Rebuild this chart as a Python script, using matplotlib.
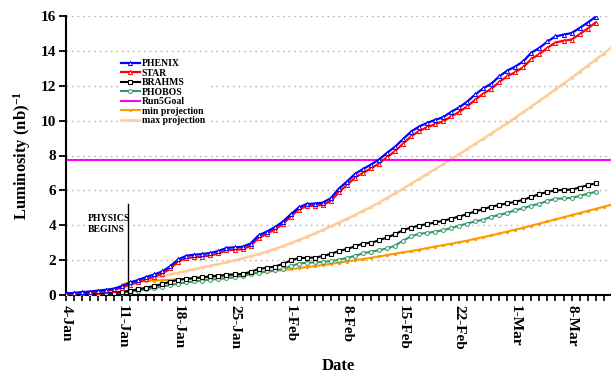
import numpy as np
import matplotlib
matplotlib.use("Agg")
import matplotlib.pyplot as plt
import matplotlib.dates as mdates
from matplotlib.ticker import FuncFormatter

plt.rcParams['font.family'] = ['Liberation Serif', 'DejaVu Serif']
plt.rcParams['font.weight'] = 'bold'
plt.rcParams['mathtext.fontset'] = 'custom'
plt.rcParams['mathtext.rm'] = 'Liberation Serif:bold'
plt.rcParams['mathtext.bf'] = 'Liberation Serif:bold'
plt.rcParams['mathtext.default'] = 'bf'

start_date = np.datetime64('2005-01-04')
physics_begins = np.datetime64('2005-01-11T18:00')
proj_start = np.datetime64('2005-01-11')
x_end = np.datetime64('2005-03-12T22:00')
run5_goal = 7.75

phenix = [0.08, 0.12, 0.17, 0.20, 0.25, 0.30, 0.37, 0.52, 0.72, 0.86, 1.03, 1.18, 1.35, 1.65, 2.05,
          2.25, 2.31, 2.35, 2.41, 2.52, 2.70, 2.73, 2.77, 2.95, 3.42, 3.63, 3.88, 4.20, 4.62, 5.02,
          5.22, 5.24, 5.30, 5.55, 6.10, 6.50, 6.94, 7.22, 7.48, 7.77, 8.15, 8.50, 8.94, 9.37, 9.66,
          9.87, 10.04, 10.20, 10.50, 10.76, 11.09, 11.50, 11.85, 12.12, 12.54, 12.87, 13.10, 13.41,
          13.90, 14.17, 14.54, 14.83, 14.93, 15.02, 15.31, 15.62, 15.95]
star = [0.06, 0.09, 0.13, 0.16, 0.20, 0.24, 0.30, 0.42, 0.60, 0.73, 0.90, 1.05, 1.22, 1.52, 1.92,
        2.12, 2.16, 2.20, 2.27, 2.38, 2.56, 2.59, 2.63, 2.82, 3.28, 3.50, 3.75, 4.06, 4.50, 4.90,
        5.10, 5.12, 5.17, 5.38, 5.90, 6.30, 6.73, 7.00, 7.26, 7.54, 7.90, 8.25, 8.68, 9.10, 9.40,
        9.62, 9.80, 9.96, 10.24, 10.50, 10.82, 11.20, 11.55, 11.82, 12.22, 12.55, 12.78, 13.07,
        13.54, 13.82, 14.18, 14.48, 14.58, 14.65, 14.95, 15.28, 15.62]
brahms = [0.03, 0.04, 0.05, 0.06, 0.08, 0.10, 0.13, 0.18, 0.25, 0.33, 0.42, 0.52, 0.63, 0.76, 0.88,
          0.92, 0.97, 1.02, 1.07, 1.11, 1.15, 1.19, 1.20, 1.33, 1.49, 1.56, 1.63, 1.78, 1.98, 2.12,
          2.13, 2.15, 2.23, 2.36, 2.52, 2.64, 2.79, 2.95, 2.99, 3.14, 3.30, 3.48, 3.72, 3.87, 3.98,
          4.07, 4.16, 4.25, 4.38, 4.50, 4.64, 4.80, 4.92, 5.07, 5.16, 5.26, 5.34, 5.46, 5.63, 5.79,
          5.91, 6.00, 6.02, 6.05, 6.16, 6.30, 6.40]
phobos = [0.03, 0.04, 0.05, 0.06, 0.07, 0.09, 0.11, 0.14, 0.19, 0.25, 0.32, 0.40, 0.48, 0.57, 0.65,
          0.72, 0.78, 0.83, 0.88, 0.92, 0.96, 1.02, 1.09, 1.20, 1.28, 1.36, 1.41, 1.49, 1.65, 1.80,
          1.85, 1.87, 1.90, 1.94, 2.02, 2.12, 2.24, 2.39, 2.48, 2.57, 2.67, 2.83, 3.12, 3.36, 3.51,
          3.56, 3.63, 3.72, 3.84, 3.97, 4.10, 4.22, 4.32, 4.49, 4.59, 4.72, 4.86, 4.98, 5.13, 5.23,
          5.40, 5.52, 5.54, 5.57, 5.68, 5.80, 5.92]
min_projection = [0.60, 0.72, 0.77, 0.80, 0.83, 0.85, 0.87, 0.90, 0.93, 0.96, 0.99, 1.02, 1.06, 1.10,
                  1.14, 1.18, 1.23, 1.28, 1.33, 1.38, 1.43, 1.48, 1.54, 1.60, 1.66, 1.72, 1.78, 1.85,
                  1.92, 1.99, 2.06, 2.13, 2.21, 2.29, 2.37, 2.45, 2.52, 2.60, 2.69, 2.78, 2.86, 2.94,
                  3.03, 3.12, 3.22, 3.32, 3.42, 3.53, 3.64, 3.75, 3.86, 3.98, 4.10, 4.22, 4.34, 4.46,
                  4.58, 4.70, 4.82, 4.94, 5.06, 5.18]
max_projection = [0.60, 0.68, 0.74, 0.85, 0.97, 1.08, 1.18, 1.28, 1.38, 1.48, 1.58, 1.68, 1.78, 1.88,
                  1.98, 2.10, 2.22, 2.35, 2.49, 2.64, 2.80, 2.97, 3.15, 3.34, 3.53, 3.73, 3.94, 4.15,
                  4.37, 4.59, 4.82, 5.05, 5.30, 5.56, 5.83, 6.10, 6.38, 6.66, 6.94, 7.22, 7.50, 7.79,
                  8.08, 8.37, 8.67, 8.96, 9.26, 9.56, 9.86, 10.17, 10.49, 10.81, 11.13, 11.46, 11.79,
                  12.12, 12.46, 12.80, 13.14, 13.49, 13.84, 14.20]

yticks = list(range(0, 17, 2))

x_data = start_date + np.arange(len(phenix)).astype('timedelta64[D]')
x_proj = proj_start + np.arange(len(min_projection)).astype('timedelta64[D]')
x_max = proj_start + np.arange(len(max_projection)).astype('timedelta64[D]')

fig = plt.figure(figsize=(6.11, 3.76), dpi=100)
ax = fig.add_axes([66/611, 81/376, 545/611, 279/376])

for y in yticks[1:]:
    ax.axhline(y, color='#a8a8a8', lw=1.0, ls=(0, (1, 3)), zorder=0)

ax.plot(x_max, max_projection, color='#FFCC99', lw=1.8, marker='o', ms=1.3, zorder=2,
        label='max projection')
ax.plot(x_proj, min_projection, color='#FF9900', lw=1.5, marker='o', ms=1.3, zorder=2,
        label='min projection')
ax.axhline(run5_goal, color='#FF00FF', lw=1.5, zorder=2, label='Run5Goal')
ax.plot(x_data, phobos, color='#339966', lw=1.5, marker='o', ms=2.8, mfc='white', mec='#339966',
        mew=0.7, zorder=3, label='PHOBOS')
ax.plot(x_data, brahms, color='black', lw=1.5, marker='s', ms=3.2, mfc='white', mec='black',
        mew=0.8, zorder=3, label='BRAHMS')
ax.plot(x_data, star, color='#FF0000', lw=1.6, marker='^', ms=3.0, mfc='white', mec='#FF0000',
        mew=0.7, zorder=4, label='STAR')
ax.plot(x_data, phenix, color='#0000FF', lw=1.6, marker='^', ms=3.0, mfc='white', mec='#0000FF',
        mew=0.7, zorder=5, label='PHENIX')

ax.text(np.datetime64('2005-01-06T18:00'), 4.05, 'PHYSICS\nBEGINS', fontsize=7, fontweight='bold',
        ha='left', va='center', linespacing=1.3, zorder=6,
        bbox=dict(facecolor='white', edgecolor='none', pad=0.3))
ax.plot([physics_begins, physics_begins], [0, 5.2], color='black', lw=1.0, zorder=7)

ax.set_ylim(0, 16)
ax.set_xlim(mdates.date2num(start_date), mdates.date2num(x_end))
ax.set_yticks(yticks)


def fmt(v, pos):
    d = mdates.num2date(v)
    return f"{d.day}-{d.strftime('%b')}"


ax.set_xticks(mdates.date2num(start_date + np.arange(0, 70, 7).astype('timedelta64[D]')))
ax.xaxis.set_major_formatter(FuncFormatter(fmt))
ax.xaxis.set_minor_locator(mdates.DayLocator())

for s in ['top', 'right']:
    ax.spines[s].set_visible(False)
for s in ['left', 'bottom']:
    ax.spines[s].set_linewidth(1.5)

ax.tick_params(axis='y', direction='out', length=5, width=1.3, labelsize=11, pad=2)
ax.tick_params(axis='x', which='both', direction='out', length=4, width=1.2, labelsize=11,
               labelrotation=270, pad=3)
for lab in ax.get_yticklabels() + ax.get_xticklabels():
    lab.set_fontweight('bold')

ax.set_ylabel(r'Luminosity (nb)$^{-1}$', fontsize=12, fontweight='bold', labelpad=6)
ax.set_xlabel('Date', fontsize=12, fontweight='bold', labelpad=6)

handles, labels = ax.get_legend_handles_labels()
order = ['PHENIX', 'STAR', 'BRAHMS', 'PHOBOS', 'Run5Goal', 'min projection', 'max projection']
hmap = dict(zip(labels, handles))
leg = ax.legend([hmap[k] for k in order], order, loc='upper left',
                bbox_to_anchor=(0.095, 0.855), fontsize=7, frameon=True, facecolor='white',
                edgecolor='none', framealpha=1, labelspacing=0.05, handlelength=2.0,
                handletextpad=0.15, borderpad=0.3, borderaxespad=0, numpoints=1, fancybox=False)
for t in leg.get_texts():
    t.set_fontweight('bold')

fig.savefig('out.png', dpi=100)
